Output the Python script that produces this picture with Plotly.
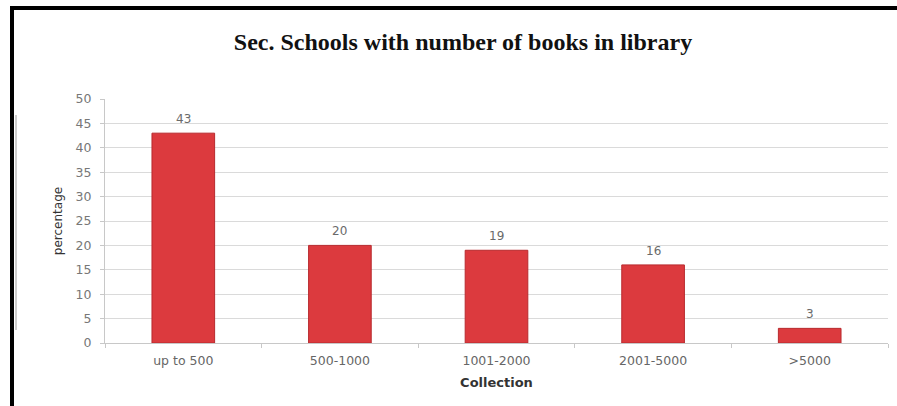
import plotly.graph_objects as go

categories = ["up to 500", "500-1000", "1001-2000", "2001-5000", ">5000"]
values = [43, 20, 19, 16, 3]
y_ticks = [0, 5, 10, 15, 20, 25, 30, 35, 40, 45, 50]

W, H = 897, 406
L, R, T, B = 105, 9, 99, 63
pw, ph = W - L - R, H - T - B

def px(x):
    return (x - L) / pw

def py(y):
    return (H - B - y) / ph

fig = go.Figure(go.Bar(
    x=categories, y=values,
    marker=dict(color="#dc3a3e", line=dict(color="#b82a2e", width=1)),
    width=0.4,
))

for c, v in zip(categories, values):
    fig.add_annotation(x=c, y=v, text=str(v), showarrow=False, yshift=14,
                       font=dict(family="DejaVu Sans", size=12, color="#6a6a6a"))

fig.update_layout(
    width=W, height=H,
    margin=dict(l=L, r=R, t=T, b=B),
    paper_bgcolor="white", plot_bgcolor="white",
    title=dict(text="<b>Sec. Schools with number of books in library</b>",
               x=463 / W, xanchor="center", y=1 - 42 / H, yanchor="middle",
               font=dict(family="Liberation Serif", size=24, color="#111111")),
    showlegend=False,
    xaxis=dict(
        title=dict(text="<b>Collection</b>", font=dict(family="DejaVu Sans", size=13, color="#333333"), standoff=10),
        tickfont=dict(family="DejaVu Sans", size=12.5, color="#666666"),
        showline=True, linecolor="#c8c8c8", linewidth=1,
        ticks="outside", ticklen=4, tickcolor="#c8c8c8", tickson="boundaries",
        ticklabelstandoff=6,
    ),
    yaxis=dict(
        title=dict(text="percentage", font=dict(family="DejaVu Sans", size=12, color="#333333"), standoff=10),
        range=[0, 50], tickvals=y_ticks,
        tickfont=dict(family="DejaVu Sans", size=12.5, color="#777777"),
        showgrid=True, gridcolor="#dadada", gridwidth=1,
        showline=True, linecolor="#c8c8c8", linewidth=1,
        ticks="outside", ticklen=4, tickcolor="#c8c8c8",
        zeroline=False, ticklabelstandoff=6,
    ),
    bargap=0.6,
    shapes=[
        dict(type="rect", xref="paper", yref="paper",
             x0=px(10), x1=px(W + 5), y0=py(10), y1=py(6),
             fillcolor="black", line=dict(width=0), layer="above"),
        dict(type="rect", xref="paper", yref="paper",
             x0=px(10), x1=px(14), y0=py(H + 5), y1=py(6),
             fillcolor="black", line=dict(width=0), layer="above"),
        dict(type="line", xref="paper", yref="paper",
             x0=px(16), x1=px(16), y0=py(330), y1=py(115),
             line=dict(color="#9a9a9a", width=1)),
    ],
)

fig.write_html("out.html", post_script="document.body.style.margin='0';",
               config={"displayModeBar": False})
